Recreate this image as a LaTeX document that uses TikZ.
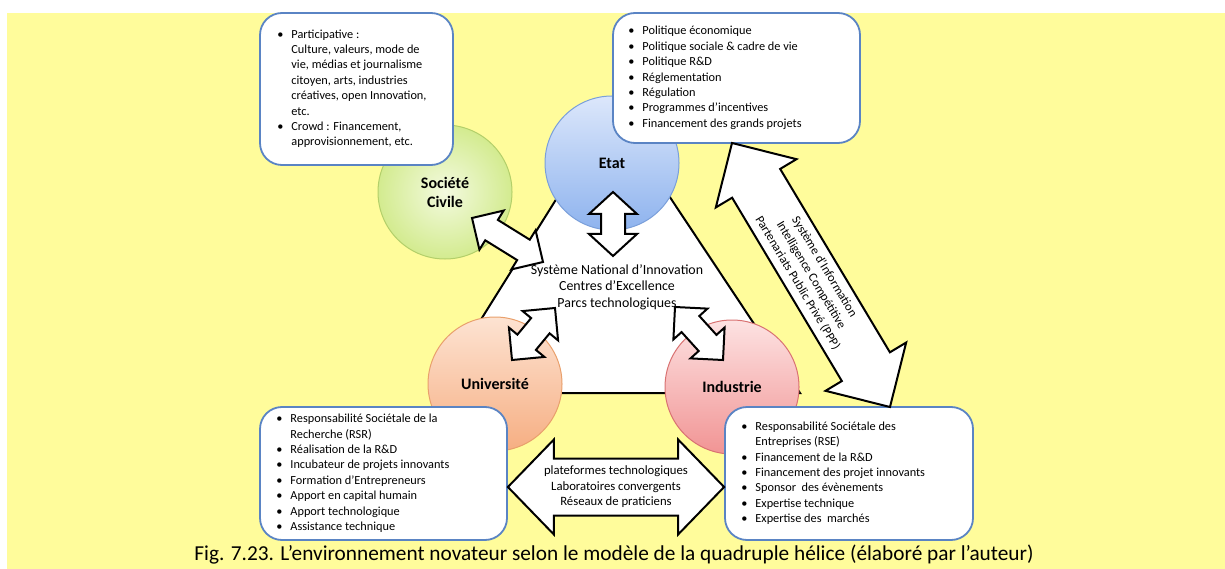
\documentclass[tikz,border=0pt]{standalone}
\usepackage{fontspec}
\setmainfont{Carlito}
\usetikzlibrary{calc, positioning}

\definecolor{bgyellow}{HTML}{FFFC9B}
\definecolor{boxblue}{HTML}{5A84C4}
\definecolor{etatline}{HTML}{7A9FDA}
\definecolor{etattop}{HTML}{DCE7FB}
\definecolor{etatbot}{HTML}{8EB3EE}
\definecolor{socline}{HTML}{B3CF6A}
\definecolor{socin}{HTML}{F3FADF}
\definecolor{socout}{HTML}{D3EB8F}
\definecolor{univline}{HTML}{E9A06C}
\definecolor{univtop}{HTML}{FDE3D2}
\definecolor{univbot}{HTML}{F6AE82}
\definecolor{indline}{HTML}{D97272}
\definecolor{indtop}{HTML}{FDE2E2}
\definecolor{indbot}{HTML}{F19494}

\newcommand\bl{\textbullet}
% double block arrow: from, to, head length, head half width, shaft half width
\newcommand\blockarrow[5]{%
  \coordinate (#1h) at ($(#1)!#3!(#2)$);
  \coordinate (#2h) at ($(#2)!#3!(#1)$);
  \draw[blockarr] (#1) -- ($(#1h)!#4!90:(#2)$) -- ($(#1h)!#5!90:(#2)$)
    -- ($(#2h)!#5!-90:(#1)$) -- ($(#2h)!#4!-90:(#1)$) -- (#2)
    -- ($(#2h)!#4!90:(#1)$) -- ($(#2h)!#5!90:(#1)$)
    -- ($(#1h)!#5!-90:(#2)$) -- ($(#1h)!#4!-90:(#2)$) -- cycle;
}

\begin{document}
\begin{tikzpicture}[x=1pt, y=-1pt,
    helix/.style={circle, minimum size=134pt, inner sep=0pt, line width=1pt, align=center,
      font=\fontsize{16}{19}\selectfont\bfseries},
    infobox/.style={draw=boxblue, line width=1.8pt, fill=white, rounded corners=22pt, inner sep=0pt},
    listtext/.style={anchor=west, inner sep=0pt, align=left, font=\fontsize{12.3}{15.4}\selectfont},
    arrtext/.style={inner sep=0pt, align=center, font=\fontsize{12.7}{15.4}\selectfont},
    blockarr/.style={draw=black, fill=white, line width=2pt, line join=miter}
  ]
  \useasboundingbox (0,0) rectangle (1225,569);
  \fill[bgyellow] (7,13) rectangle (1225,569);

  % triangle
  \draw[fill=white, line width=2pt, line join=miter] (612,110) -- (435,393) -- (800,393) -- cycle;

  % helices
  \node[helix, draw=etatline, top color=etattop, bottom color=etatbot] (etat) at (612,163) {Etat};
  \node[helix, draw=socline, inner color=socin, outer color=socout] (soc) at (445,192) {Société\\Civile};
  \node[helix, draw=univline, top color=univtop, bottom color=univbot] (univ) at (495,384) {Université};
  \node[helix, draw=indline, top color=indtop, bottom color=indbot] (ind) at (732,387) {Industrie};

  \node[align=center, inner sep=0pt, font=\fontsize{13.9}{16.5}\selectfont] (core) at (617,287)
    {Système National d’Innovation\\Centres d’Excellence\\Parcs technologiques};

  % boxes
  \node[infobox, minimum width=193pt, minimum height=152pt] (socbox) at (356.5,89) {};
  \node[infobox, minimum width=247pt, minimum height=130pt] (etatbox) at (736.5,78) {};
  \node[infobox, minimum width=247pt, minimum height=133pt] (univbox) at (383.5,473.5) {};
  \node[infobox, minimum width=248pt, minimum height=133pt] (indbox) at (849,473.5) {};

  \node[listtext] (soclist) at ([xshift=18pt]socbox.west) {\begin{tabular}{@{}l@{\hspace{8pt}}l@{}}
    \bl & Participative :\\
        & Culture, valeurs, mode de\\
        & vie, médias et journalisme\\
        & citoyen, arts, industries\\
        & créatives, open Innovation,\\
        & etc.\\
    \bl & Crowd : Financement,\\
        & approvisionnement, etc.
  \end{tabular}};
  \node[listtext] (etatlist) at ([xshift=16pt]etatbox.west) {\begin{tabular}{@{}l@{\hspace{8pt}}l@{}}
    \bl & Politique économique\\
    \bl & Politique sociale \& cadre de vie\\
    \bl & Politique R\&D\\
    \bl & Réglementation\\
    \bl & Régulation\\
    \bl & Programmes d’incentives\\
    \bl & Financement des grands projets
  \end{tabular}};
  \node[listtext] (univlist) at ([xshift=17pt]univbox.west) {\begin{tabular}{@{}l@{\hspace{8pt}}l@{}}
    \bl & Responsabilité Sociétale de la\\
        & Recherche (RSR)\\
    \bl & Réalisation de la R\&D\\
    \bl & Incubateur de projets innovants\\
    \bl & Formation d’Entrepreneurs\\
    \bl & Apport en capital humain\\
    \bl & Apport technologique\\
    \bl & Assistance technique
  \end{tabular}};
  \node[listtext] (indlist) at ([xshift=17pt]indbox.west) {\begin{tabular}{@{}l@{\hspace{8pt}}l@{}}
    \bl & Responsabilité Sociétale des\\
        & Entreprises (RSE)\\
    \bl & Financement de la R\&D\\
    \bl & Financement des projet innovants\\
    \bl & Sponsor\ \ des évènements\\
    \bl & Expertise technique\\
    \bl & Expertise des\ \ marchés
  \end{tabular}};

  % block arrows
  \coordinate (socA) at (472,218);  \coordinate (socB) at (543,262);
  \coordinate (etatA) at (613,192); \coordinate (etatB) at (613,256);
  \coordinate (univA) at (555,308); \coordinate (univB) at (512,360);
  \coordinate (indA) at (675,307);  \coordinate (indB) at (723,360);
  \coordinate (pppA) at (732,143);  \coordinate (pppB) at (890,407);
  \coordinate (platA) at (univbox.east |- 0,487); \coordinate (platB) at (indbox.west |- 0,487);

  \blockarrow{socA}{socB}{23pt}{23pt}{12pt}
  \blockarrow{etatA}{etatB}{22pt}{24pt}{12pt}
  \blockarrow{univA}{univB}{23pt}{23pt}{12pt}
  \blockarrow{indA}{indB}{23pt}{23pt}{12pt}
  \blockarrow{pppA}{pppB}{47pt}{47pt}{28pt}
  \blockarrow{platA}{platB}{46pt}{47.5pt}{28.5pt}

  \node[arrtext, rotate=-59, font=\fontsize{12.5}{15.6}\selectfont] (ppptext) at ($(pppA)!0.5!(pppB)$)
    {Système d’Information\\Intelligence Compétitive\\Partenariats Public Privé (PPP)};
  \node[arrtext] (plattext) at ($(platA)!0.5!(platB)$)
    {plateformes technologiques\\Laboratoires convergents\\Réseaux de praticiens};

  \node[font=\fontsize{21.3}{24}\selectfont, inner sep=0pt] (caption) at (614,555)
    {Fig. 7.23. L’environnement novateur selon le modèle de la quadruple hélice (élaboré par l’auteur)};
\end{tikzpicture}
\end{document}
